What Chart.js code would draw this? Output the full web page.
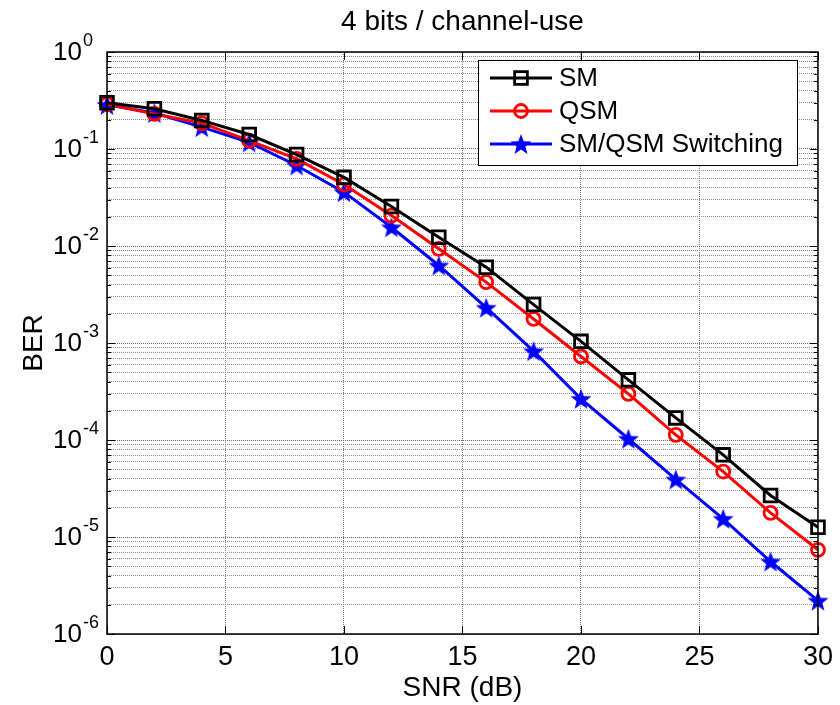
<!DOCTYPE html>
<html>
<head>
<meta charset="utf-8">
<script src="https://cdn.jsdelivr.net/npm/chart.js@4.4.1/dist/chart.umd.min.js"></script>
<style>
  html, body { margin: 0; padding: 0; background: #fff; }
  #wrap { width: 840px; height: 705px; }
</style>
</head>
<body>
<div id="wrap"><canvas id="c" width="840" height="705"></canvas></div>
<script>
// ---- Data ----
const snr = [0, 2, 4, 6, 8, 10, 12, 14, 16, 18, 20, 22, 24, 26, 28, 30];
const berSM = [0.30, 0.26, 0.197, 0.141, 0.0877, 0.051, 0.0255, 0.0123, 0.00605, 0.00249, 0.00104, 0.000417, 0.000169, 7.03e-5, 2.68e-5, 1.26e-5];
const berQSM = [0.29, 0.23, 0.185, 0.122, 0.079, 0.043, 0.0206, 0.00935, 0.00424, 0.00177, 0.000726, 0.000299, 0.000113, 4.73e-5, 1.77e-5, 7.38e-6];
const berSwitch = [0.285, 0.235, 0.168, 0.117, 0.0676, 0.0359, 0.0156, 0.0063, 0.00231, 0.000824, 0.000266, 0.000103, 3.92e-5, 1.54e-5, 5.59e-6, 2.21e-6];
const seriesNames = ['SM', 'QSM', 'SM/QSM Switching'];
const xTicks = [0, 5, 10, 15, 20, 25, 30];
const yMajorExp = [0, -1, -2, -3, -4, -5, -6];
const yMinorMult = [2, 3, 4, 5, 6, 7, 8, 9];
const titleText = '4 bits / channel-use';
const xTitle = 'SNR (dB)';
const yTitle = 'BER';

const FONT = '"Liberation Sans", Arial, sans-serif';

// star marker image
function makeStar(size, color) {
  const cv = document.createElement('canvas');
  cv.width = size; cv.height = size;
  const g = cv.getContext('2d');
  const cx = size / 2, cy = size / 2 + 1;
  const R = size / 2, r = R * 0.42;
  g.beginPath();
  for (let i = 0; i < 10; i++) {
    const ang = -Math.PI / 2 + i * Math.PI / 5;
    const rad = i % 2 === 0 ? R : r;
    const px = cx + rad * Math.cos(ang), py = cy + rad * Math.sin(ang);
    if (i === 0) g.moveTo(px, py); else g.lineTo(px, py);
  }
  g.closePath();
  g.fillStyle = color;
  g.fill();
  return cv;
}
const starImg = makeStar(22, '#0000ff');

function pts(vals) { return snr.map((x, i) => ({ x: x, y: vals[i] })); }

const yTickValues = [];
yMajorExp.forEach(e => {
  yTickValues.push(Math.pow(10, e));
  if (e > -6) yMinorMult.forEach(m => yTickValues.push(m * Math.pow(10, e - 1)));
});
function isMajor(v) { const l = Math.log10(v); return Math.abs(l - Math.round(l)) < 1e-9; }

const decoPlugin = {
  id: 'deco',
  afterDatasetsDraw(chart) {
    const ctx = chart.ctx, a = chart.chartArea;
    const xs = chart.scales.x, ys = chart.scales.y;
    ctx.save();
    ctx.strokeStyle = '#000';
    ctx.lineWidth = 1;
    // y tick marks (inside, both sides)
    yTickValues.forEach(v => {
      const y = Math.round(ys.getPixelForValue(v)) + 0.5;
      const len = isMajor(v) ? 8 : 4;
      ctx.beginPath();
      ctx.moveTo(a.left, y); ctx.lineTo(a.left + len, y);
      ctx.moveTo(a.right, y); ctx.lineTo(a.right - len, y);
      ctx.stroke();
    });
    xTicks.forEach(v => {
      const x = Math.round(xs.getPixelForValue(v)) + 0.5;
      ctx.beginPath();
      ctx.moveTo(x, a.bottom); ctx.lineTo(x, a.bottom - 8);
      ctx.moveTo(x, a.top); ctx.lineTo(x, a.top + 8);
      ctx.stroke();
    });
    // frame
    ctx.lineWidth = 1.5;
    ctx.strokeRect(a.left, a.top, a.right - a.left, a.bottom - a.top);
    // y tick labels 10^k
    ctx.fillStyle = '#000';
    yMajorExp.forEach(e => {
      const y = ys.getPixelForValue(Math.pow(10, e));
      ctx.font = '26px ' + FONT;
      ctx.textAlign = 'right';
      ctx.textBaseline = 'middle';
      ctx.fillText('10', a.left - 25, y + 1);
      ctx.font = '18px ' + FONT;
      ctx.textAlign = 'left';
      ctx.fillText(e === 0 ? '0' : String(e), a.left - 24, y - 11);
    });
    // title centred over the axes
    ctx.font = '28px ' + FONT;
    ctx.textAlign = 'center';
    ctx.textBaseline = 'middle';
    ctx.fillText(titleText, (a.left + a.right) / 2, 22);
    ctx.restore();
  },
  afterDraw(chart) {
    const ctx = chart.ctx;
    // legend box
    const bx = 478, by = 60, bw = 319, bh = 105;
    ctx.save();
    ctx.fillStyle = '#fff';
    ctx.fillRect(bx, by, bw, bh);
    ctx.strokeStyle = '#000';
    ctx.lineWidth = 1;
    ctx.strokeRect(bx + 0.5, by + 0.5, bw, bh);
    const rowsY = [78, 111, 144];
    chart.data.datasets.forEach((ds, i) => {
      const y = rowsY[i];
      ctx.strokeStyle = ds.borderColor;
      ctx.lineWidth = ds.borderWidth;
      ctx.beginPath();
      ctx.moveTo(490, y); ctx.lineTo(552, y);
      ctx.stroke();
      const mx = 521;
      if (ds.pointStyle === 'rect') {
        ctx.lineWidth = ds.pointBorderWidth;
        ctx.strokeStyle = ds.pointBorderColor;
        const s = ds.pointRadius * Math.SQRT1_2;
        ctx.strokeRect(mx - s, y - s, 2 * s, 2 * s);
      } else if (ds.pointStyle === 'circle') {
        ctx.lineWidth = ds.pointBorderWidth;
        ctx.strokeStyle = ds.pointBorderColor;
        ctx.beginPath();
        ctx.arc(mx, y, ds.pointRadius, 0, Math.PI * 2);
        ctx.stroke();
      } else {
        ctx.drawImage(starImg, mx - starImg.width / 2, y - starImg.height / 2);
      }
      ctx.fillStyle = '#000';
      ctx.font = '26px ' + FONT;
      ctx.textAlign = 'left';
      ctx.textBaseline = 'middle';
      ctx.fillText(ds.label, 559, y + 1);
    });
    ctx.restore();
  }
};

new Chart(document.getElementById('c'), {
  type: 'line',
  data: {
    datasets: [
      { label: seriesNames[0], data: pts(berSM), borderColor: '#000000', borderWidth: 3,
        pointStyle: 'rect', pointRadius: 9, pointBorderWidth: 2.8, pointBorderColor: '#000000',
        pointBackgroundColor: 'rgba(0,0,0,0)', clip: false },
      { label: seriesNames[1], data: pts(berQSM), borderColor: '#ff0000', borderWidth: 3,
        pointStyle: 'circle', pointRadius: 6.5, pointBorderWidth: 2.8, pointBorderColor: '#ff0000',
        pointBackgroundColor: 'rgba(0,0,0,0)', clip: false },
      { label: seriesNames[2], data: pts(berSwitch), borderColor: '#0000ff', borderWidth: 3,
        pointStyle: starImg, pointRadius: 11, pointBorderColor: '#0000ff',
        pointBackgroundColor: '#0000ff', clip: false }
    ]
  },
  options: {
    responsive: false,
    animation: false,
    events: [],
    layout: { padding: { left: 0, right: 20, top: 52, bottom: 0 } },
    plugins: {
      legend: { display: false },
      tooltip: { enabled: false },
      title: { display: false }
    },
    scales: {
      x: {
        type: 'linear', min: 0, max: 30,
        afterBuildTicks(scale) { scale.ticks = xTicks.map(v => ({ value: v })); },
        afterFit(scale) { scale.height = 71; },
        ticks: { color: '#000', padding: 7, font: { family: FONT, size: 27 }, maxRotation: 0 },
        grid: { color: '#7a7a7a', drawTicks: false, lineWidth: 1 },
        border: { display: false, dash: [1, 1] },
        title: { display: true, text: xTitle, color: '#000',
          font: { family: FONT, size: 28, lineHeight: 1.2 }, padding: { top: 1, bottom: 0 } }
      },
      y: {
        type: 'logarithmic', min: 1e-6, max: 1,
        afterBuildTicks(scale) { scale.ticks = yTickValues.map(v => ({ value: v })); },
        afterFit(scale) { scale.width = 107; },
        ticks: { display: false },
        grid: { color: ctx => (ctx.tick && isMajor(ctx.tick.value)) ? '#666' : '#8c8c8c',
          drawTicks: false, lineWidth: 1 },
        border: { display: false, dash: [1, 1] },
        title: { display: true, text: yTitle, color: '#000',
          font: { family: FONT, size: 28, lineHeight: 1.2 }, padding: { top: 17, bottom: 0 } }
      }
    }
  },
  plugins: [decoPlugin]
});
</script>
</body>
</html>
